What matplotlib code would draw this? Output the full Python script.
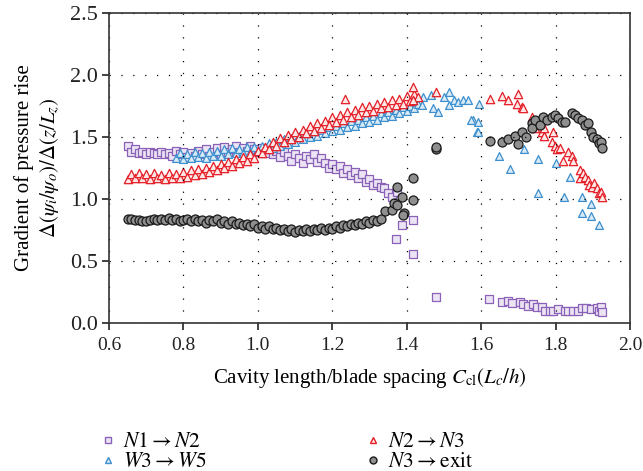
import matplotlib
matplotlib.use('Agg')

import numpy as np
import matplotlib.pyplot as plt
from matplotlib.lines import Line2D

plt.rcParams['font.family'] = ['Liberation Serif', 'DejaVu Serif']
plt.rcParams['mathtext.fontset'] = 'stix'

# ========== 数据 ==========
# N1 -> N2 (purple squares)
n12_x = [0.65, 0.66, 0.67, 0.68, 0.69, 0.70, 0.71, 0.72, 0.73, 0.74, 0.75, 0.76, 0.77, 0.78,
         0.79, 0.80, 0.81, 0.82, 0.83, 0.84, 0.85, 0.86, 0.87, 0.88, 0.89, 0.90, 0.91, 0.92,
         0.93, 0.94, 0.95, 0.96, 0.97, 0.98, 0.99, 1.00, 1.01, 1.02, 1.03, 1.04, 1.05, 1.06,
         1.07, 1.08, 1.09, 1.10, 1.11, 1.12, 1.13, 1.14, 1.15, 1.16, 1.17, 1.18, 1.19, 1.20,
         1.21, 1.22, 1.23, 1.24, 1.25, 1.26, 1.27, 1.28, 1.29, 1.30, 1.31, 1.32, 1.33, 1.34,
         1.35, 1.36, 1.373, 1.386, 1.37, 1.418, 1.416, 1.479,
         1.62, 1.657, 1.673, 1.684, 1.705, 1.713, 1.726, 1.74, 1.75, 1.763, 1.772, 1.785,
         1.793, 1.806, 1.825, 1.833, 1.846, 1.86, 1.87, 1.883, 1.896, 1.91, 1.918, 1.923, 1.925]
n12_y = [1.43, 1.38, 1.40, 1.37, 1.38, 1.36, 1.38, 1.37, 1.36, 1.38, 1.36, 1.37, 1.35, 1.39,
         1.36, 1.38, 1.34, 1.37, 1.35, 1.39, 1.36, 1.40, 1.35, 1.38, 1.41, 1.36, 1.42, 1.38,
         1.40, 1.43, 1.38, 1.41, 1.39, 1.43, 1.40, 1.38, 1.41, 1.37, 1.40, 1.36, 1.39, 1.34,
         1.38, 1.35, 1.31, 1.36, 1.33, 1.29, 1.35, 1.32, 1.36, 1.30, 1.33, 1.29, 1.25, 1.28,
         1.24, 1.27, 1.21, 1.24, 1.19, 1.22, 1.17, 1.20, 1.14, 1.16, 1.11, 1.13, 1.10, 1.09,
         1.05, 1.02, 1.06, 0.79, 0.68, 0.83, 0.56, 0.21,
         0.19, 0.17, 0.18, 0.16, 0.17, 0.15, 0.14, 0.15, 0.13, 0.13, 0.10, 0.10,
         0.10, 0.11, 0.10, 0.10, 0.10, 0.10, 0.12, 0.12, 0.11, 0.12, 0.10, 0.13, 0.09]

# N2 -> N3 (red triangles)
n23_x = [0.65, 0.66, 0.67, 0.68, 0.69, 0.70, 0.71, 0.72, 0.73, 0.74, 0.75, 0.76, 0.77, 0.78,
         0.79, 0.80, 0.81, 0.82, 0.83, 0.84, 0.85, 0.86, 0.87, 0.88, 0.89, 0.90, 0.91, 0.92,
         0.93, 0.94, 0.95, 0.96, 0.97, 0.98, 0.99, 1.00, 1.01, 1.02, 1.03, 1.04, 1.05, 1.06,
         1.07, 1.08, 1.09, 1.10, 1.11, 1.12, 1.13, 1.14, 1.15, 1.16, 1.17, 1.18, 1.19, 1.20,
         1.21, 1.22, 1.23, 1.24, 1.25, 1.26, 1.27, 1.28, 1.29, 1.30, 1.31, 1.32, 1.33, 1.34,
         1.35, 1.36, 1.37, 1.38, 1.39, 1.40, 1.41, 1.42, 1.43, 1.235, 1.418, 1.418, 1.479,
         1.625, 1.657, 1.673, 1.70, 1.697, 1.71, 1.713, 1.737, 1.745, 1.763, 1.768, 1.77,
         1.793, 1.79, 1.798, 1.803, 1.811, 1.82, 1.833, 1.843, 1.846, 1.865, 1.865, 1.873,
         1.878, 1.886, 1.891, 1.899, 1.904, 1.91, 1.918, 1.923, 1.926]
n23_y = [1.16, 1.20, 1.17, 1.21, 1.17, 1.20, 1.16, 1.21, 1.17, 1.19, 1.16, 1.21, 1.17, 1.20,
         1.17, 1.22, 1.18, 1.23, 1.19, 1.24, 1.20, 1.25, 1.22, 1.27, 1.23, 1.28, 1.25, 1.30,
         1.27, 1.32, 1.29, 1.34, 1.31, 1.36, 1.33, 1.39, 1.37, 1.42, 1.40, 1.46, 1.43, 1.49,
         1.46, 1.52, 1.48, 1.54, 1.50, 1.56, 1.53, 1.59, 1.55, 1.61, 1.57, 1.63, 1.60, 1.66,
         1.62, 1.68, 1.64, 1.70, 1.66, 1.72, 1.68, 1.74, 1.70, 1.75, 1.71, 1.77, 1.73, 1.78,
         1.74, 1.80, 1.76, 1.81, 1.77, 1.83, 1.79, 1.85, 1.82, 1.81, 1.90, 1.80, 1.86,
         1.81, 1.83, 1.80, 1.85, 1.77, 1.74, 1.73, 1.66, 1.57, 1.54, 1.51, 1.57,
         1.54, 1.46, 1.43, 1.40, 1.41, 1.31, 1.38, 1.35, 1.31, 1.23, 1.17, 1.21,
         1.18, 1.15, 1.11, 1.10, 1.13, 1.09, 1.05, 1.06, 1.02]

# W3 -> W5 (blue triangles)
w35_x = [0.78, 0.79, 0.80, 0.81, 0.82, 0.83, 0.84, 0.85, 0.86, 0.87, 0.88, 0.89, 0.90, 0.91,
         0.92, 0.93, 0.94, 0.95, 0.96, 0.97, 0.98, 0.99, 1.00, 1.01, 1.02, 1.03, 1.04, 1.05,
         1.06, 1.07, 1.08, 1.09, 1.10, 1.11, 1.12, 1.13, 1.14, 1.15, 1.16, 1.17, 1.18, 1.19,
         1.20, 1.21, 1.22, 1.23, 1.24, 1.25, 1.26, 1.27, 1.28, 1.29, 1.30, 1.31, 1.32, 1.33,
         1.34, 1.35, 1.36, 1.37, 1.38, 1.39, 1.40, 1.41, 1.42, 1.43, 1.44,
         1.445, 1.466, 1.471, 1.485, 1.50, 1.514, 1.514, 1.527, 1.537, 1.551, 1.564,
         1.578, 1.591, 1.594, 1.572, 1.59, 1.591, 1.647, 1.678, 1.716, 1.753, 1.753,
         1.801, 1.822, 1.84, 1.872, 1.896, 1.872, 1.896, 1.918]
w35_y = [1.33, 1.37, 1.32, 1.36, 1.33, 1.38, 1.34, 1.37, 1.33, 1.38, 1.35, 1.39, 1.35, 1.40,
         1.36, 1.41, 1.37, 1.40, 1.37, 1.42, 1.38, 1.42, 1.39, 1.43, 1.40, 1.45, 1.41, 1.46,
         1.43, 1.48, 1.44, 1.49, 1.46, 1.51, 1.48, 1.53, 1.50, 1.55, 1.51, 1.56, 1.53, 1.58,
         1.55, 1.59, 1.56, 1.61, 1.58, 1.63, 1.59, 1.64, 1.61, 1.66, 1.62, 1.67, 1.64, 1.69,
         1.66, 1.70, 1.67, 1.72, 1.69, 1.74, 1.71, 1.75, 1.73, 1.77, 1.76,
         1.82, 1.84, 1.73, 1.70, 1.82, 1.86, 1.76, 1.80, 1.78, 1.80, 1.80,
         1.64, 1.62, 1.77, 1.64, 1.54, 1.54, 1.35, 1.24, 1.40, 1.32, 1.05,
         1.29, 1.02, 1.18, 1.02, 0.96, 0.89, 0.86, 0.79]

# N3 -> exit (grey circles)
n3e_x = [0.65, 0.66, 0.67, 0.68, 0.69, 0.70, 0.71, 0.72, 0.73, 0.74, 0.75, 0.76, 0.77, 0.78,
         0.79, 0.80, 0.81, 0.82, 0.83, 0.84, 0.85, 0.86, 0.87, 0.88, 0.89, 0.90, 0.91, 0.92,
         0.93, 0.94, 0.95, 0.96, 0.97, 0.98, 0.99, 1.00, 1.01, 1.02, 1.03, 1.04, 1.05, 1.06,
         1.07, 1.08, 1.09, 1.10, 1.11, 1.12, 1.13, 1.14, 1.15, 1.16, 1.17, 1.18, 1.19, 1.20,
         1.21, 1.22, 1.23, 1.24, 1.25, 1.26, 1.27, 1.28, 1.29, 1.30, 1.31, 1.32, 1.33,
         1.341, 1.36, 1.365, 1.373, 1.373, 1.386, 1.394, 1.39, 1.418, 1.418, 1.48, 1.48,
         1.625, 1.657, 1.673, 1.69, 1.70, 1.71, 1.72, 1.737, 1.737, 1.745, 1.758, 1.766,
         1.777, 1.79, 1.798, 1.806, 1.817, 1.825, 1.843, 1.851, 1.86, 1.87, 1.878, 1.886,
         1.896, 1.90, 1.91, 1.918, 1.923, 1.926]
n3e_y = [0.84, 0.84, 0.83, 0.83, 0.82, 0.82, 0.83, 0.84, 0.83, 0.84, 0.83, 0.85, 0.83, 0.84,
         0.82, 0.83, 0.84, 0.82, 0.84, 0.82, 0.83, 0.81, 0.83, 0.82, 0.84, 0.81, 0.82, 0.80,
         0.82, 0.80, 0.81, 0.79, 0.80, 0.78, 0.80, 0.77, 0.78, 0.76, 0.78, 0.76, 0.77, 0.75,
         0.76, 0.74, 0.76, 0.73, 0.75, 0.74, 0.76, 0.74, 0.76, 0.75, 0.77, 0.75, 0.77, 0.76,
         0.78, 0.77, 0.79, 0.78, 0.80, 0.79, 0.81, 0.80, 0.82, 0.81, 0.83, 0.82, 0.84,
         0.90, 0.91, 0.97, 0.95, 1.10, 1.02, 0.89, 0.87, 0.99, 1.17, 1.40, 1.42,
         1.47, 1.46, 1.48, 1.51, 1.44, 1.54, 1.50, 1.61, 1.57, 1.64, 1.60, 1.66,
         1.64, 1.66, 1.68, 1.65, 1.62, 1.62, 1.69, 1.68, 1.65, 1.64, 1.60, 1.61,
         1.54, 1.50, 1.48, 1.45, 1.46, 1.41]

# ========== 样式 ==========
styles = [
    ('$N1 \\rightarrow N2$', n12_x, n12_y, 's', '#8a63b8', '#ece4f4', 28),
    ('$W3 \\rightarrow W5$', w35_x, w35_y, '^', '#3d8fce', '#d8ebf7', 32),
    ('$N2 \\rightarrow N3$', n23_x, n23_y, '^', '#e41e26', '#fde6e6', 36),
    ('$N3 \\rightarrow \\mathrm{exit}$', n3e_x, n3e_y, 'o', '#1a1a1a', '#8f8f8f', 42),
]

fig = plt.figure(figsize=(6.43, 4.71), dpi=100)
ax = fig.add_axes([0.1695, 0.3142, 0.8103, 0.6582])

for label, xs, ys, mk, ec, fc, s in styles:
    ax.scatter(xs, ys, marker=mk, s=s, facecolors=fc, edgecolors=ec, linewidths=0.9)

ax.set_xlim(0.6, 2.0)
ax.set_ylim(0.0, 2.5)
ax.set_xticks(np.arange(0.6, 2.01, 0.2))
ax.set_yticks(np.arange(0.0, 2.51, 0.5))
ax.xaxis.set_major_formatter(plt.FormatStrFormatter('%.1f'))
ax.yaxis.set_major_formatter(plt.FormatStrFormatter('%.1f'))
ax.tick_params(direction='out', length=5, width=1.2, colors='#222222')
ax.tick_params(axis='x', labelsize=14, pad=5)
ax.tick_params(axis='y', labelsize=16, pad=3)
ax.grid(True, linestyle=(0, (1, 8.5)), color='black', linewidth=0.9)
for sp in ax.spines.values():
    sp.set_linewidth(1.2)
    sp.set_color('#333333')

ax.set_xlabel('Cavity length/blade spacing $C_{\\mathrm{cl}}(L_c/h)$', fontsize=15, labelpad=9)
ax.set_ylabel('Gradient of pressure rise\n$\\Delta(\\psi_i/\\psi_o)/\\Delta(z/L_z)$',
              fontsize=15, labelpad=6, linespacing=1.25)

handles = [Line2D([], [], linestyle='none', marker=mk, markersize=5 if mk != 's' else 4.5,
                  markerfacecolor=fc, markeredgecolor=ec, markeredgewidth=1.0)
           for _, _, _, mk, ec, fc, _ in styles]
labels = [st[0] for st in styles]
fig.legend(handles, labels, ncol=2, loc='center left', bbox_to_anchor=(0.151, 0.04),
           frameon=False, fontsize=15.5, columnspacing=7.2, handletextpad=0.2,
           labelspacing=0.0, handlelength=1.0, borderpad=0, borderaxespad=0)

plt.savefig('out.png', dpi=100)
